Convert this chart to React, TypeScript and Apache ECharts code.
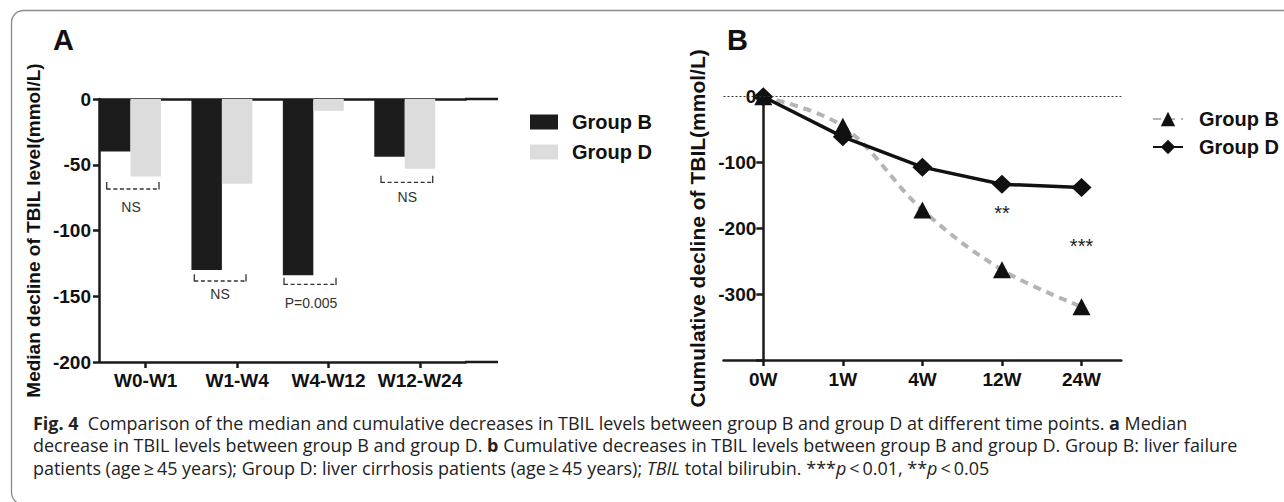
import React, { useEffect, useRef } from "react";
import * as echarts from "echarts";

// ---------- data ----------
const catsA = ["W0-W1", "W1-W4", "W4-W12", "W12-W24"];
const medianGroupB = [-40, -130, -134, -44];
const medianGroupD = [-59, -64.5, -9, -53];
const sigLabelsA = ["NS", "NS", "P=0.005", "NS"];

const catsB = ["0W", "1W", "4W", "12W", "24W"];
const cumGroupB = [0, -45, -172, -263, -319];
const cumGroupD = [0, -61, -107, -133, -138];
const sigMarksB = [
  { cat: "12W", value: -177, text: "**" },
  { cat: "24W", value: -227, text: "***" },
];

const captionLines = [
  "{b|Fig. 4}  Comparison of the median and cumulative decreases in TBIL levels between group B and group D at different time points. {b|a} Median",
  "decrease in TBIL levels between group B and group D. {b|b} Cumulative decreases in TBIL levels between group B and group D. Group B: liver failure",
  "patients (age\u2009\u2265\u200945 years); Group D: liver cirrhosis patients (age\u2009\u2265\u200945 years); {i|TBIL} total bilirubin. ***{i|p}\u2009<\u20090.01, **{i|p}\u2009<\u20090.05",
];

// ---------- layout (pixels) ----------
const bracketLayout = [
  { x1: 106.7, x2: 159, y: 189, top: 182, tx: 131, ty: 206.7 },
  { x1: 194.3, x2: 246, y: 281, top: 274.3, tx: 220, ty: 294 },
  { x1: 284, x2: 336, y: 284.3, top: 277.7, tx: 311, ty: 303 },
  { x1: 381, x2: 432.7, y: 182.3, top: 175.7, tx: 407.3, ty: 196.5 },
];

const AX = "#1a1a1a";
const FONT = "'Liberation Sans', Arial, Helvetica, sans-serif";
const CAP_FONT = "'Open Sans', 'Noto Sans', sans-serif";

function measureRich(text: string, size: number): number {
  const ctx = document.createElement("canvas").getContext("2d");
  if (!ctx) return text.length * size * 0.5;
  const re = /\{(b|i)\|([^}]*)\}/g;
  let last = 0;
  let w = 0;
  let m: RegExpExecArray | null;
  const seg = (t: string, style: string) => {
    ctx.font = `${style} ${size}px ${CAP_FONT}`;
    w += ctx.measureText(t).width;
  };
  while ((m = re.exec(text))) {
    if (m.index > last) seg(text.slice(last, m.index), "normal");
    seg(m[2], m[1] === "b" ? "bold" : "italic");
    last = m.index + m[0].length;
  }
  if (last < text.length) seg(text.slice(last), "normal");
  return w;
}

export default function App() {
  const ref = useRef<HTMLDivElement>(null);

  useEffect(() => {
    document.body.style.margin = "0";
    const chart = echarts.init(ref.current!, undefined, { renderer: "svg" });

    const axisLine = { show: true, onZero: false, lineStyle: { color: AX, width: 2.5 } };
    const tickLabel = { fontSize: 19, fontWeight: "bold" as const, color: "#111", fontFamily: FONT };

    // caption font size fitted so that the first line spans the same width as in the figure
    const capLeft = 33;
    const capRight = 1188;
    const w20 = measureRich(captionLines[0], 20);
    let capSize = (20 * (capRight - capLeft)) / w20;
    if (!isFinite(capSize) || capSize < 12 || capSize > 20) capSize = 16.5;

    const graphics: any[] = [
      {
        type: "rect",
        shape: { x: 11.5, y: 10.5, width: 1300, height: 494, r: 12 },
        style: { fill: "none", stroke: "#8a8a8a", lineWidth: 1.3 },
        silent: true,
      },
      { type: "text", x: 53, y: 40, style: { text: "A", fontSize: 29, fontWeight: "bold", fontFamily: FONT, fill: "#111", verticalAlign: "middle" } },
      { type: "text", x: 727, y: 40, style: { text: "B", fontSize: 29, fontWeight: "bold", fontFamily: FONT, fill: "#111", verticalAlign: "middle" } },
      // axis extensions panel A
      { type: "line", shape: { x1: 465, y1: 99, x2: 498, y2: 99 }, style: { stroke: AX, lineWidth: 2.5 } },
      { type: "line", shape: { x1: 465, y1: 362, x2: 498, y2: 362 }, style: { stroke: AX, lineWidth: 2.5 } },
    ];

    bracketLayout.forEach((b, i) => {
      graphics.push(
        { type: "line", shape: { x1: b.x1, y1: b.y, x2: b.x2, y2: b.y }, style: { stroke: "#333", lineWidth: 1.3, lineDash: [4, 2.6] } },
        { type: "line", shape: { x1: b.x1, y1: b.top, x2: b.x1, y2: b.y + 0.6 }, style: { stroke: "#333", lineWidth: 1.3 } },
        { type: "line", shape: { x1: b.x2, y1: b.top, x2: b.x2, y2: b.y + 0.6 }, style: { stroke: "#333", lineWidth: 1.3 } },
        {
          type: "text",
          x: b.tx,
          y: b.ty,
          style: { text: sigLabelsA[i], fontSize: 14, fontFamily: FONT, fill: "#333", align: "center", verticalAlign: "middle" },
        }
      );
    });

    const capY = [422.5, 445, 467.5];
    captionLines.forEach((t, i) => {
      graphics.push({
        type: "text",
        x: capLeft,
        y: capY[i],
        style: {
          text: t,
          fontSize: capSize,
          fontFamily: CAP_FONT,
          fill: "#222",
          verticalAlign: "middle",
          rich: {
            b: { fontWeight: "bold", fontSize: capSize, fontFamily: CAP_FONT, fill: "#222" },
            i: { fontStyle: "italic", fontSize: capSize, fontFamily: CAP_FONT, fill: "#222" },
          },
        },
      });
    });

    const option: any = {
      animation: false,
      backgroundColor: "#ffffff",
      textStyle: { fontFamily: FONT },
      grid: [
        { left: 100, top: 99, width: 365.7, height: 263 },
        { left: 723.5, top: 96.7, width: 397.8, height: 263.3 },
      ],
      legend: [
        {
          data: [
            { name: "Group B", icon: "rect", itemStyle: { color: "#1c1c1c", borderWidth: 0 } },
            { name: "Group D", icon: "rect", itemStyle: { color: "#dcdcdc", borderWidth: 0 } },
          ],
          orient: "vertical",
          left: 525,
          top: 107,
          itemWidth: 28,
          itemHeight: 15,
          itemGap: 10,
          selectedMode: false,
          textStyle: { fontSize: 20, fontWeight: "bold", color: "#111", fontFamily: FONT, padding: [0, 0, 0, 9] },
        },
        {
          data: ["Group B", "Group D"],
          orient: "vertical",
          left: 1147,
          top: 104,
          itemWidth: 30,
          itemHeight: 18,
          itemGap: 8,
          selectedMode: false,
          textStyle: { fontSize: 20, fontWeight: "bold", color: "#111", fontFamily: FONT, padding: [0, 0, 0, 11] },
        },
      ],
      xAxis: [
        {
          gridIndex: 0,
          type: "category",
          data: catsA,
          position: "bottom",
          axisLine,
          axisTick: { show: true, alignWithLabel: true, interval: 0, length: 6, lineStyle: { color: AX, width: 2.5 } },
          axisLabel: { ...tickLabel, margin: 9, interval: 0 },
          splitLine: { show: false },
        },
        {
          gridIndex: 0,
          type: "category",
          data: catsA,
          position: "top",
          axisLine,
          axisTick: { show: false },
          axisLabel: { show: false },
        },
        {
          gridIndex: 1,
          type: "category",
          data: catsB,
          position: "bottom",
          axisLine,
          axisTick: { show: true, alignWithLabel: true, interval: 0, length: 6, lineStyle: { color: AX, width: 2.5 } },
          axisLabel: { ...tickLabel, margin: 10, interval: 0 },
        },
      ],
      yAxis: [
        {
          gridIndex: 0,
          type: "value",
          min: -200,
          max: 0,
          interval: 50,
          offset: 1,
          axisLine,
          axisTick: { show: true, length: 6, lineStyle: { color: AX, width: 2.5 } },
          axisLabel: { ...tickLabel, margin: 8 },
          splitLine: { show: false },
          name: "Median decline of TBIL level(mmol/L)",
          nameLocation: "middle",
          nameGap: 56,
          nameTextStyle: { fontSize: 19, fontWeight: "bold", color: "#111", fontFamily: FONT },
        },
        {
          gridIndex: 1,
          type: "value",
          min: -400,
          max: 0,
          interval: 100,
          offset: -39.8,
          axisLine,
          axisTick: { show: true, length: 7, lineStyle: { color: AX, width: 2.5 } },
          axisLabel: { ...tickLabel, margin: 7, formatter: (v: number) => (v === -400 ? "" : String(v)) },
          splitLine: { show: false },
          name: "Cumulative decline of TBIL(mmol/L)",
          nameLocation: "middle",
          nameGap: 55,
          nameTextStyle: { fontSize: 21, fontWeight: "bold", color: "#111", fontFamily: FONT },
        },
      ],
      series: [
        {
          name: "Group B",
          type: "line",
          xAxisIndex: 2,
          yAxisIndex: 1,
          data: cumGroupB,
          symbol: "triangle",
          symbolSize: [18, 17],
          smooth: 0.35,
          z: 2,
          lineStyle: { color: "#b5b5b5", width: 4, type: [8, 6] },
          itemStyle: { color: "#111" },
          markPoint: {
            symbol: "circle",
            symbolSize: 1,
            itemStyle: { color: "rgba(0,0,0,0)" },
            label: { show: true, fontSize: 20, color: "#222", fontFamily: FONT, position: "inside" },
            data: sigMarksB.map((m) => ({ coord: [m.cat, m.value], value: m.text, label: { formatter: m.text } })),
          },
        },
        {
          name: "Group D",
          type: "line",
          xAxisIndex: 2,
          yAxisIndex: 1,
          data: cumGroupD,
          symbol: "diamond",
          symbolSize: [20, 19],
          z: 3,
          lineStyle: { color: "#111", width: 3.5 },
          itemStyle: { color: "#111" },
          markLine: {
            silent: true,
            symbol: "none",
            label: { show: false },
            lineStyle: { color: "#333", width: 1, type: [2, 2] },
            data: [{ yAxis: 0 }],
          },
        },
        {
          name: "Group B",
          type: "bar",
          xAxisIndex: 0,
          yAxisIndex: 0,
          data: medianGroupB,
          barGap: "0%",
          barCategoryGap: "0%",
          itemStyle: { color: "#1c1c1c" },
        },
        {
          name: "Group D",
          type: "bar",
          xAxisIndex: 0,
          yAxisIndex: 0,
          data: medianGroupD,
          barGap: "0%",
          barCategoryGap: "0%",
          itemStyle: { color: "#dcdcdc" },
        },
        {
          name: "spacer",
          type: "bar",
          xAxisIndex: 0,
          yAxisIndex: 0,
          data: [],
          barGap: "0%",
          barCategoryGap: "0%",
        },
      ],
      graphic: graphics,
    };

    chart.setOption(option);
    return () => chart.dispose();
  }, []);

  return <div ref={ref} style={{ width: 1284, height: 502, background: "#fff" }} />;
}
